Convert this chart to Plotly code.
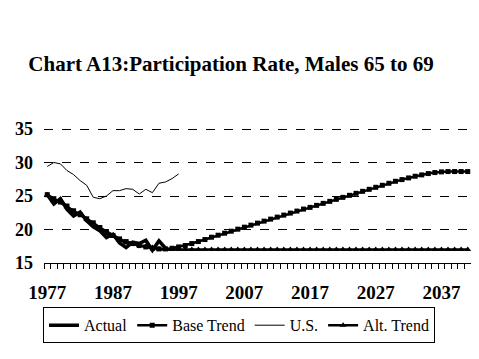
import plotly.graph_objects as go

years = list(range(1977, 2042))
actual_years = list(range(1977, 1996))
us_years = list(range(1977, 1998))

actual = [25.2, 23.8, 24.6, 23.0, 22.0, 22.6, 21.3, 20.4, 19.8, 18.8,
          19.3, 18.0, 17.3, 18.1, 17.9, 18.4, 16.9, 18.3, 17.2]

base_trend = [25.2, 24.6, 24.1, 23.5, 22.8, 22.2, 21.6, 21.0, 20.3, 19.7,
              19.1, 18.6, 18.2, 17.9, 17.6, 17.4, 17.2, 17.1, 17.1, 17.2,
              17.4, 17.6, 17.9, 18.2, 18.5, 18.85, 19.15, 19.45, 19.75, 20.05,
              20.35, 20.65, 20.95, 21.25, 21.55, 21.85, 22.15, 22.45, 22.75, 23.05,
              23.3, 23.6, 23.9, 24.2, 24.5, 24.8, 25.1, 25.4, 25.7, 26.0,
              26.3, 26.6, 26.9, 27.2, 27.45, 27.7, 27.95, 28.15, 28.35, 28.5,
              28.6, 28.65, 28.65, 28.65, 28.65]

us = [29.4, 30.0, 29.8, 28.8, 28.2, 27.3, 26.6, 24.8, 24.6, 25.0,
      25.8, 25.8, 26.1, 26.0, 25.3, 26.0, 25.5, 26.9, 27.1, 27.6, 28.3]

alt_trend = [25.2, 24.3, 24.4, 23.4, 22.6, 22.3, 21.5, 20.8, 20.2, 19.4,
             19.0, 18.4, 18.0, 17.8, 17.6, 17.5, 17.3, 17.1, 17.0, 17.0,
             17.0, 17.0, 17.0, 17.0, 17.0, 17.0, 17.0, 17.0, 17.0, 17.0,
             17.0, 17.0, 17.0, 17.0, 17.0, 17.0, 17.0, 17.0, 17.0, 17.0,
             17.0, 17.0, 17.0, 17.0, 17.0, 17.0, 17.0, 17.0, 17.0, 17.0,
             17.0, 17.0, 17.0, 17.0, 17.0, 17.0, 17.0, 17.0, 17.0, 17.0,
             17.0, 17.0, 17.0, 17.0, 17.0]

x_labels = [1977, 1987, 1997, 2007, 2017, 2027, 2037]
y_ticks = [15, 20, 25, 30, 35]

FONT = "Liberation Serif"

fig = go.Figure()
fig.add_trace(go.Scatter(x=actual_years, y=actual, name="Actual", mode="lines",
                         line=dict(color="black", width=3.5)))
fig.add_trace(go.Scatter(x=years, y=base_trend, name="Base Trend", mode="lines+markers",
                         line=dict(color="black", width=2.5),
                         marker=dict(symbol="square", size=5, color="black")))
fig.add_trace(go.Scatter(x=us_years, y=us, name="U.S.", mode="lines",
                         line=dict(color="black", width=1)))
fig.add_trace(go.Scatter(x=years, y=alt_trend, name="Alt. Trend", mode="lines+markers",
                         line=dict(color="black", width=2.5),
                         marker=dict(symbol="triangle-up", size=6, color="black")))

# page body adds an 8px offset, so the figure is 8px smaller and shifted
W, H = 471, 351
plot_h = H - 119 - 96

fig.update_layout(
    width=W, height=H,
    margin=dict(l=36, r=8, t=119, b=96, autoexpand=False),
    paper_bgcolor="white", plot_bgcolor="white",
    font=dict(family=FONT, color="black"),
    title=dict(text="<b>Chart A13:Participation Rate, Males 65 to 69</b>",
               x=(231 - 8) / W, xanchor="center", xref="container",
               y=1 - (64 - 8) / H, yanchor="middle", yref="container",
               font=dict(family=FONT, size=21, color="black")),
    showlegend=True,
    legend=dict(orientation="h", xref="paper", yref="paper",
                x=(239 - 44) / 427, xanchor="center",
                y=-(307 - 262.7) / plot_h, yanchor="top",
                bordercolor="black", borderwidth=1, bgcolor="white",
                font=dict(family=FONT, size=16, color="black"),
                itemwidth=30, tracegroupgap=0),
    xaxis=dict(range=[1976.5, 2041.5], tickmode="array", tickvals=x_labels,
               ticktext=["<b>%d</b>" % v for v in x_labels],
               ticks="", showgrid=False, zeroline=False, automargin=False,
               showline=True, linecolor="black", linewidth=1,
               tickfont=dict(family=FONT, size=19, color="black"),
               ticklabelstandoff=12,
               minor=dict(ticks="outside", tick0=1976.5, dtick=1, ticklen=5,
                          tickcolor="black", tickwidth=1, showgrid=False)),
    yaxis=dict(range=[15, 35.3], tickmode="array", tickvals=y_ticks,
               ticktext=["<b>%d</b>" % v for v in y_ticks],
               ticks="", showline=False, zeroline=False, automargin=False,
               showgrid=True, gridcolor="black", gridwidth=1, griddash="dash",
               tickfont=dict(family=FONT, size=18, color="black"),
               ticklabelstandoff=10),
)

fig.write_html("out.html")
